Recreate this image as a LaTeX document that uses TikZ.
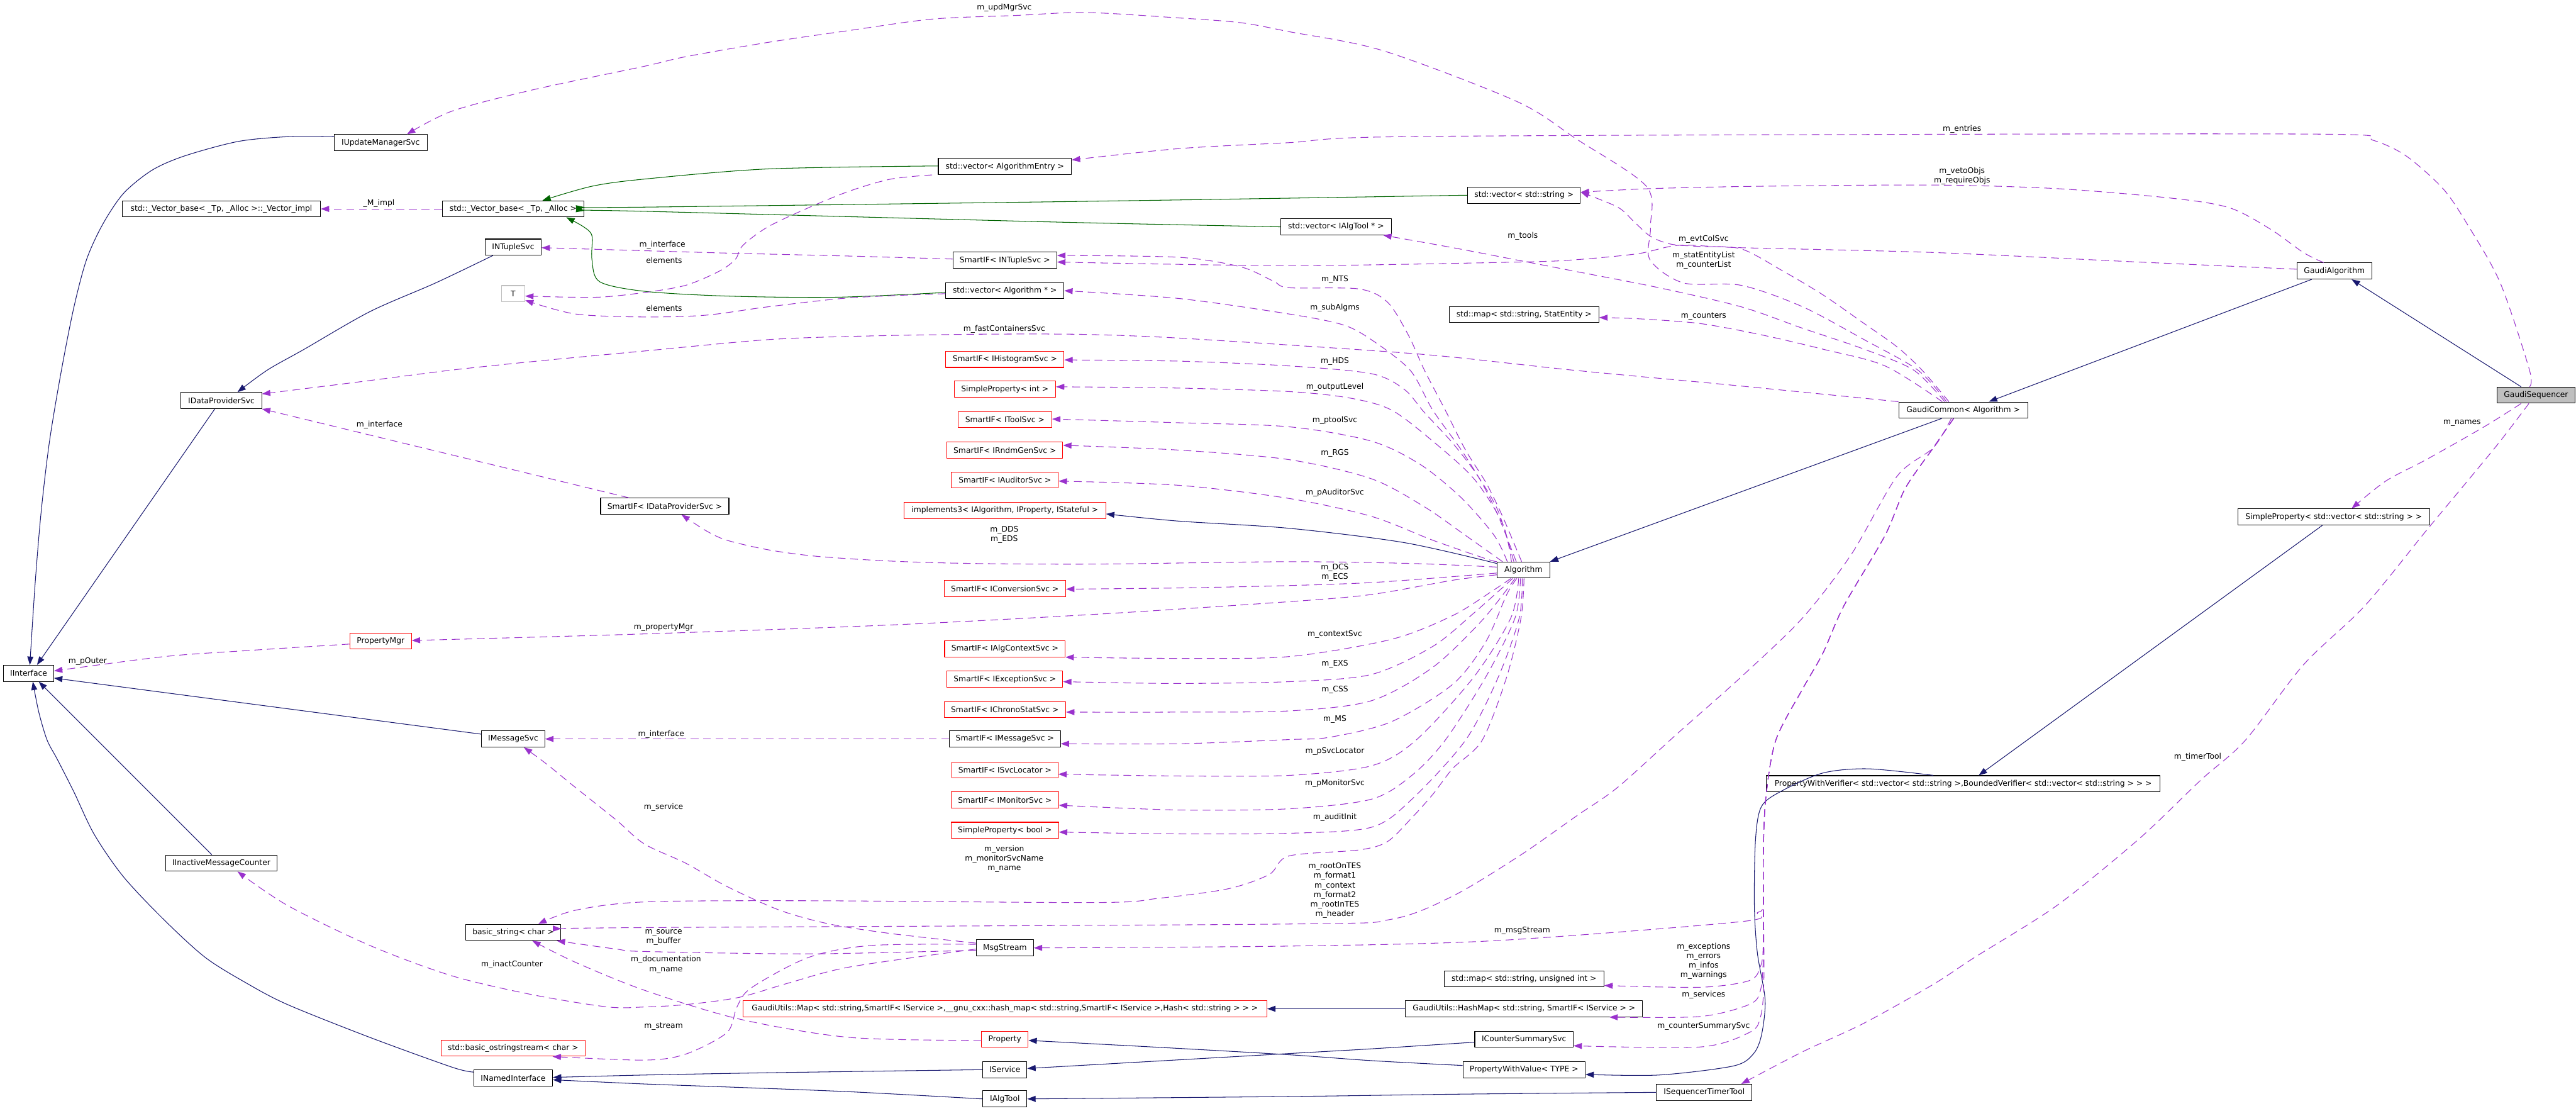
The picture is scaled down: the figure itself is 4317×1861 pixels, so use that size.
\documentclass[tikz,border=0pt]{standalone}
\usepackage{fontspec}
\setmainfont{DejaVu Sans}
\usetikzlibrary{arrows.meta}
\definecolor{mnavy}{RGB}{25,25,112}
\definecolor{mpurp}{RGB}{154,50,205}
\definecolor{mgreen}{RGB}{0,100,0}
\definecolor{mgray}{RGB}{191,191,191}
\newcommand\dfont{\fontsize{13}{16}\selectfont}
\begin{document}
\begin{tikzpicture}[x=1pt,y=-1pt,line join=round,
 box/.style={draw=black,line width=1.1pt,fill=white,minimum height=27pt,inner sep=0pt,font=\dfont},
 rbox/.style={box,draw=red},
 inh/.style={draw=mnavy,line width=1.1pt,-{Triangle[length=14pt,width=10pt]}},
 grn/.style={draw=mgreen,line width=1.1pt,-{Triangle[length=14pt,width=10pt]}},
 usg/.style={draw=mpurp,line width=1.1pt,dash pattern=on 13pt off 8pt,-{Triangle[length=14pt,width=10pt]}},
 lab/.style={font=\dfont,align=center,inner sep=0pt}]
\fill[white] (0,0) rectangle (4317,1861);
\useasboundingbox (0,0) rectangle (4317,1861);

% ---------- nodes ----------
\node[box,minimum width=156pt] (iums) at (638,239) {IUpdateManagerSvc};
\node[box,minimum width=332pt] (vimpl) at (371,350) {std::\_Vector\_base< \_Tp, \_Alloc >::\_Vector\_impl};
\node[box,minimum width=238pt] (vbase) at (860,350) {std::\_Vector\_base< \_Tp, \_Alloc >};
\node[box,minimum width=94pt] (ints) at (860,414) {INTupleSvc};
\node[box,draw=mgray,minimum width=39pt] (T) at (860,492) {T};
\node[box,minimum width=135pt] (idp) at (371,671) {IDataProviderSvc};
\node[box,minimum width=84pt] (iface) at (48,1128) {IInterface};
\node[rbox,minimum width=103pt] (pmgr) at (638,1074) {PropertyMgr};
\node[box,minimum width=106pt] (imsg) at (860,1238) {IMessageSvc};
\node[box,minimum width=187pt] (imc) at (371,1446) {IInactiveMessageCounter};
\node[box,minimum width=160pt] (bstr) at (860,1562) {basic\_string< char >};
\node[rbox,minimum width=242pt] (oss) at (860,1756) {std::basic\_ostringstream< char >};
\node[box,minimum width=132pt] (inamed) at (860,1806) {INamedInterface};

\node[box,minimum width=223pt] (vecAE) at (1684,279) {std::vector< AlgorithmEntry >};
\node[box,minimum width=174pt] (spNT) at (1684,436) {SmartIF< INTupleSvc >};
\node[box,minimum width=198pt] (vecAlg) at (1684,487) {std::vector< Algorithm * >};
\node[rbox,minimum width=198pt] (spHist) at (1684,602) {SmartIF< IHistogramSvc >};
\node[rbox,minimum width=170pt] (spInt) at (1684,652) {SimpleProperty< int >};
\node[rbox,minimum width=157pt] (spTool) at (1684,703) {SmartIF< IToolSvc >};
\node[rbox,minimum width=194pt] (spRndm) at (1684,754) {SmartIF< IRndmGenSvc >};
\node[rbox,minimum width=179pt] (spAud) at (1684,804) {SmartIF< IAuditorSvc >};
\node[rbox,minimum width=338pt] (impl3) at (1684,855) {implements3< IAlgorithm, IProperty, IStateful >};
\node[box,minimum width=215pt] (spIDP) at (1114,848) {SmartIF< IDataProviderSvc >};
\node[rbox,minimum width=204pt] (spConv) at (1684,986) {SmartIF< IConversionSvc >};
\node[rbox,minimum width=202pt] (spCtx) at (1684,1087) {SmartIF< IAlgContextSvc >};
\node[rbox,minimum width=194pt] (spExc) at (1684,1138) {SmartIF< IExceptionSvc >};
\node[rbox,minimum width=204pt] (spChr) at (1684,1189) {SmartIF< IChronoStatSvc >};
\node[box,minimum width=186pt] (spMsg) at (1684,1238) {SmartIF< IMessageSvc >};
\node[rbox,minimum width=178pt] (spLoc) at (1684,1290) {SmartIF< ISvcLocator >};
\node[rbox,minimum width=180pt] (spMon) at (1684,1340) {SmartIF< IMonitorSvc >};
\node[rbox,minimum width=180pt] (spBool) at (1684,1391) {SimpleProperty< bool >};
\node[box,minimum width=96pt] (msgs) at (1684,1588) {MsgStream};
\node[rbox,minimum width=878pt] (gmap) at (1684,1690) {GaudiUtils::Map< std::string,SmartIF< IService >,\_\_gnu\_cxx::hash\_map< std::string,SmartIF< IService >,Hash< std::string > > >};
\node[rbox,minimum width=78pt] (prop) at (1684,1741) {Property};
\node[box,minimum width=74pt] (isvc) at (1684,1792) {IService};
\node[box,minimum width=74pt] (ialg) at (1684,1841) {IAlgTool};

\node[box,minimum width=189pt] (vecStr) at (2554,327) {std::vector< std::string >};
\node[box,minimum width=185pt] (vecTool) at (2239,380) {std::vector< IAlgTool * >};
\node[box,minimum width=251pt] (mapStat) at (2554,527) {std::map< std::string, StatEntity >};
\node[box,minimum width=88pt] (alg) at (2553,955) {Algorithm};
\node[box,minimum width=268pt] (mapUI) at (2554,1640) {std::map< std::string, unsigned int >};
\node[box,minimum width=397pt] (hmap) at (2554,1690) {GaudiUtils::HashMap< std::string, SmartIF< IService > >};
\node[box,minimum width=165pt] (icss) at (2554,1741) {ICounterSummarySvc};
\node[box,minimum width=205pt] (pwval) at (2554,1792) {PropertyWithValue< TYPE >};
\node[box,minimum width=160pt] (istt) at (2856,1830) {ISequencerTimerTool};
\node[box,minimum width=216pt] (gc) at (3290,687) {GaudiCommon< Algorithm >};
\node[box,minimum width=660pt] (pwver) at (3290,1313) {PropertyWithVerifier< std::vector< std::string >,BoundedVerifier< std::vector< std::string > > >};
\node[box,minimum width=125pt] (galg) at (3912,454) {GaudiAlgorithm};
\node[box,minimum width=321pt] (spvs) at (3911,866) {SimpleProperty< std::vector< std::string > >};
\node[box,fill=mgray,minimum width=131pt] (gseq) at (4250,662) {GaudiSequencer};

% ---------- inheritance ----------
\draw[inh] plot[smooth] coordinates {([yshift=10pt]iums.west) (482,229) (399,237) (310,261) (255,285) (207,324) (172,376) (145,435) (124,514) (103,620) (83,739) (69,857) (59,976) ([xshift=2pt]iface.north)};
\draw[inh] ([xshift=-11pt]idp.south) -- ([xshift=14pt]iface.north);
\draw[inh] plot[smooth] coordinates {([xshift=-34pt]ints.south) (730,474) (620,522) (510,585) (448,620) ([xshift=27pt]idp.north)};
\draw[inh] ([yshift=-6pt]imsg.north west) -- ([yshift=-8pt]iface.east);
\draw[inh] ([xshift=-16pt]imc.north) -- ([xshift=17pt]iface.south);
\draw[inh] plot[smooth] coordinates {([yshift=10pt]inamed.west) (758,1788) (620,1738) (482,1683) (413,1647) (344,1604) (275,1541) (207,1469) (158,1398) (124,1327) (96,1272) (79,1240) (65,1193) ([xshift=7pt]iface.south)};
\draw[inh] plot[smooth] coordinates {(isvc.west) (1300,1797) (1080,1801) ([yshift=1pt]inamed.east)};
\draw[inh] plot[smooth] coordinates {(ialg.west) (1424,1829) (1218,1821) (1080,1816) ([yshift=-3pt]inamed.east)};
\draw[inh] plot[smooth] coordinates {(istt.west) (2450,1833) (2160,1837) (ialg.east)};
\draw[inh] plot[smooth] coordinates {([yshift=-5pt]icss.west) (2300,1757) (2160,1765) (1950,1777) ([yshift=2pt]isvc.east)};
\draw[inh] plot[smooth] coordinates {([yshift=7pt]pwval.west) (2300,1777) (2160,1767) (1950,1755) ([yshift=-2pt]prop.east)};
\draw[inh] (hmap.west) -- (gmap.east);
\draw[inh] plot[smooth] coordinates {([xshift=-50pt]pwver.north) (3131,1288) (3055,1295) (2986,1325) (2952,1351) (2942,1406) (2940,1517) (2945,1596) (2958,1675) (2952,1734) (2938,1766) (2904,1786) (2780,1801) ([yshift=-8pt]pwval.east)};
\draw[inh] ([xshift=-19pt]spvs.south) -- ([xshift=26pt]pwver.north);
\draw[inh] ([xshift=-25pt]gseq.north) -- ([xshift=29pt]galg.south);
\draw[inh] ([xshift=-38pt]galg.south) -- ([xshift=43pt]gc.north);
\draw[inh] ([xshift=-36pt]gc.south) -- (alg.north east);
\draw[inh] plot[smooth] coordinates {([yshift=11pt]alg.west) (2353,909) (2160,885) (1975,873) ([yshift=-6pt]impl3.east)};

% ---------- green ----------
\draw[grn] plot[smooth] coordinates {([yshift=1pt]vecAE.west) (1287,283) (1080,300) (992,312) ([xshift=49pt]vbase.north)};
\draw[grn] plot[smooth] coordinates {(vecStr.west) (2160,332) (1769,338) (1080,347) ([yshift=3pt]vbase.east)};
\draw[grn] plot[smooth] coordinates {(vecTool.west) (1769,372) (1080,354) ([yshift=-3pt]vbase.east)};
\draw[grn] plot[smooth] coordinates {([yshift=-3pt]vecAlg.west) (1400,498) (1218,496) (1080,488) (1005,472) (992,435) (992,395) (978,380) ([xshift=89pt]vbase.south)};

% ---------- usage ----------
\draw[usg] plot[smooth] coordinates {([xshift=-28pt]gc.north) (3214,620) (3124,569) (3021,514) (2918,478) (2821,474) (2765,435) (2766,380) (2759,312) (2642,233) (2542,170) (2318,85) (2160,53) (2079,38) (1975,30) (1820,21) (1700,26) (1562,32) (1424,51) (1287,71) (1149,95) (1080,111) (895,150) (758,186) ([xshift=44pt]iums.north)};
\draw[usg] plot[smooth] coordinates {([xshift=-11pt]gseq.north) (4239,620) (4190,474) (4135,376) (4094,316) (4032,261) (3977,235) (3911,225) (3240,225) (2346,229) (2160,239) (1975,249) ([yshift=11pt]vecAE.east)};
\draw[usg] plot[smooth] coordinates {([xshift=-18pt]galg.north) (3860,423) (3805,384) (3736,348) (3639,332) (3447,316) (3240,310) (2952,312) (2766,316) ([yshift=5pt]vecStr.east)};
\draw[usg] plot[smooth] coordinates {([yshift=3pt]galg.west) (3584,439) (3240,423) (2918,415) (2814,411) (2745,425) (2642,435) (2546,439) (2160,445) ([yshift=-3pt]spNT.east)};
\draw[usg] plot[smooth] coordinates {([xshift=-31pt]gc.north) (3207,620) (3124,585) (3021,550) (2918,514) (2780,482) (2642,455) (2539,435) (2435,415) ([xshift=79pt]vecTool.south)};
\draw[usg] plot[smooth] coordinates {([xshift=-24pt]gc.north) (3221,620) (3179,581) (3124,542) (3055,494) (2986,453) (2918,417) (2850,413) (2800,409) (2766,396) (2739,372) (2711,347) ([yshift=5pt]vecStr.east)};
\draw[usg] plot[smooth] coordinates {([xshift=-35pt]gc.north) (3159,613) (3055,585) (2952,561) (2849,542) (2745,534) ([yshift=-5pt]mapStat.east)};
\draw[usg] plot[smooth] coordinates {(gc.north west) (2900,645) (2635,620) (2400,595) (2160,578) (1950,565) (1803,560) (1631,560) (1450,563) (1287,569) (1080,588) (900,605) (757,620) (600,640) ([yshift=-3pt]idp.north east)};
% Algorithm fan (top)
\draw[usg] plot[smooth] coordinates {([xshift=-3pt]alg.north) (2518,865) (2491,810) (2456,754) (2422,687) (2387,620) (2360,561) (2325,506) (2277,484) (2160,482) (2134,471) (2079,447) (1975,431) ([yshift=8pt]spNT.east)};
\draw[usg] plot[smooth] coordinates {([xshift=-12pt]alg.north) (2511,865) (2484,810) (2449,754) (2401,687) (2363,620) (2298,569) (2250,544) (2160,526) (1975,500) (vecAlg.east)};
\draw[usg] plot[smooth] coordinates {([xshift=-16pt]alg.north) (2511,857) (2477,798) (2435,743) (2387,691) (2353,652) (2298,626) (2160,613) (1975,605) ([yshift=-1pt]spHist.east)};
\draw[usg] plot[smooth] coordinates {([xshift=-20pt]alg.north) (2518,877) (2470,802) (2401,739) (2332,687) (2263,667) (2160,656) (1968,650) ([yshift=4pt]spInt.east)};
\draw[usg] plot[smooth] coordinates {([xshift=-27pt]alg.north) (2504,897) (2449,834) (2380,778) (2298,739) (2160,715) (1968,708) ([yshift=1pt]spTool.east)};
\draw[usg] plot[smooth] coordinates {([xshift=-35pt]alg.north) (2456,897) (2387,849) (2298,802) (2160,770) (1975,754) ([yshift=8pt]spRndm.east)};
\draw[usg] plot[smooth] coordinates {(alg.north west) (2490,936) (2401,905) (2298,865) (2160,835) (1975,813) ([yshift=-2pt]spAud.east)};
% Algorithm fan (left)
\draw[usg] plot[smooth] coordinates {([yshift=5pt]alg.west) (2366,944) (2160,941) (1838,945) (1631,944) (1493,940) (1369,932) (1287,921) (1218,905) (1183,889) ([xshift=28pt]spIDP.south)};
\draw[usg] plot[smooth] coordinates {([yshift=-5pt]alg.west) (2435,966) (2298,976) (2160,981) (1975,985) ([yshift=-1pt]spConv.east)};
\draw[usg] plot[smooth] coordinates {([yshift=-8pt]alg.west) (2435,972) (2298,996) (2160,1008) (1838,1029) (1493,1047) (1080,1062) ([yshift=1pt]pmgr.east)};
% Algorithm fan (bottom)
\draw[usg] plot[smooth] coordinates {([xshift=-21pt]alg.south) (2504,988) (2435,1031) (2332,1071) (2160,1100) (1968,1103) (spCtx.south east)};
\draw[usg] plot[smooth] coordinates {([xshift=-18pt]alg.south) (2470,1027) (2401,1083) (2298,1130) (2160,1142) (1968,1145) ([yshift=-4pt]spExc.east)};
\draw[usg] plot[smooth] coordinates {([xshift=-14pt]alg.south) (2484,1039) (2401,1118) (2298,1174) (2160,1191) (1968,1193) ([yshift=-4pt]spChr.east)};
\draw[usg] plot[smooth] coordinates {([xshift=-11pt]alg.south) (2525,996) (2490,1075) (2435,1146) (2332,1209) (2229,1235) (2160,1239) (1975,1246) ([yshift=-8pt]spMsg.east)};
\draw[usg] plot[smooth] coordinates {([xshift=-8pt]alg.south) (2532,1035) (2470,1134) (2373,1240) (2298,1283) (2160,1299) (1975,1300) ([yshift=-7pt]spLoc.east)};
\draw[usg] plot[smooth] coordinates {([xshift=-5pt]alg.south) (2539,1035) (2490,1134) (2422,1240) (2366,1299) (2298,1339) (2160,1355) (1975,1357) ([yshift=-9pt]spMon.east)};
\draw[usg] plot[smooth] coordinates {([xshift=-2pt]alg.south) (2546,1035) (2511,1134) (2456,1240) (2366,1339) (2298,1386) (2160,1396) (1975,1397) ([yshift=-3pt]spBool.east)};
\draw[usg] plot[smooth] coordinates {([xshift=1pt]alg.south) (2549,1035) (2525,1134) (2484,1240) (2435,1287) (2401,1331) (2366,1370) (2325,1410) (2277,1424) (2160,1434) (2127,1465) (2058,1489) (1941,1505) (1838,1512) (1355,1509) (1080,1511) (964,1525) ([xshift=42pt]bstr.north)};
% GaudiCommon bottom bundle
\draw[usg] plot[smooth] coordinates {([xshift=-20pt]gc.south) (3240,750) (3179,798) (3103,928) (3021,1035) (2918,1134) (2811,1229) (2711,1319) (2642,1367) (2546,1434) (2435,1501) (2332,1540) (2160,1548) (1080,1554) ([yshift=6pt]bstr.east)};
\draw[usg] plot[smooth] coordinates {([xshift=-16pt]gc.south) (3240,750) (3193,818) (3159,897) (3090,1015) (3055,1094) (3021,1154) (2976,1240) (2959,1339) (2955,1438) (2955,1517) (2945,1529) (2918,1544) (2504,1576) (2160,1585) (msgs.east)};
\draw[usg] plot[smooth] coordinates {([xshift=-16pt]gc.south) (3240,750) (3193,818) (3159,897) (3090,1015) (3055,1094) (3021,1154) (2976,1240) (2959,1339) (2955,1438) (2955,1580) (2950,1620) (2931,1643) (2849,1654) ([yshift=-11pt]mapUI.east)};
\draw[usg] plot[smooth] coordinates {([xshift=-16pt]gc.south) (3240,750) (3193,818) (3159,897) (3090,1015) (3055,1094) (3021,1154) (2976,1240) (2959,1339) (2955,1438) (2955,1600) (2950,1660) (2931,1683) (2849,1703) ([xshift=143pt]hmap.south)};
\draw[usg] plot[smooth] coordinates {([xshift=-16pt]gc.south) (3240,750) (3193,818) (3159,897) (3090,1015) (3055,1094) (3021,1154) (2976,1240) (2959,1339) (2955,1438) (2956,1640) (2950,1705) (2931,1730) (2849,1754) ([yshift=-11pt]icss.east)};
% GaudiSequencer
\draw[usg] plot[smooth] coordinates {([xshift=-25pt]gseq.south) (4163,715) (4066,770) (3998,806) ([xshift=30pt]spvs.north)};
\draw[usg] plot[smooth] coordinates {([xshift=-12pt]gseq.south) (4190,739) (4135,806) (4066,889) (3963,1015) (3860,1114) (3763,1240) (3688,1307) (3584,1406) (3447,1517) (3309,1604) (3240,1649) (3124,1714) (3021,1762) ([xshift=62pt]istt.north)};
% MsgStream, Property
\draw[usg] plot[smooth] coordinates {([yshift=8pt]msgs.west) (1493,1564) (1390,1548) (1307,1525) (1218,1485) (1149,1446) (1080,1414) (1033,1374) (964,1319) (916,1280) ([xshift=18pt]imsg.south)};
\draw[usg] plot[smooth] coordinates {([yshift=-4pt]msgs.west) (1355,1598) (1080,1594) (1033,1590) ([xshift=73pt]bstr.south)};
\draw[usg] plot[smooth] coordinates {([yshift=-2pt]prop.west) (1424,1738) (1238,1707) (1080,1659) (964,1612) ([xshift=32pt]bstr.south)};
\draw[usg] plot[smooth] coordinates {([yshift=-2pt]msgs.west) (1424,1620) (1321,1647) (1238,1671) (1149,1683) (1080,1687) (1019,1687) (895,1667) (758,1635) (620,1584) (482,1517) ([xshift=27pt]imc.south)};
\draw[usg] plot[smooth] coordinates {([yshift=6pt]msgs.west) (1459,1584) (1355,1604) (1259,1655) (1235,1687) (1218,1730) (1149,1766) (1080,1776) ([xshift=66pt]oss.south)};
% SmartIF -> interfaces
\draw[usg] ([xshift=-60pt]spIDP.north) -- (idp.south east);
\draw[usg] plot[smooth] coordinates {([yshift=2pt]spNT.west) (1424,429) (1218,424) (1080,420) ([yshift=-1pt]ints.east)};
\draw[usg] (spMsg.west) -- (imsg.east);
% elements
\draw[usg] plot[smooth] coordinates {([xshift=-122pt]vecAE.south) (1493,300) (1424,320) (1355,348) (1287,380) (1245,411) (1232,435) (1204,455) (1149,478) (1080,490) (999,498) ([yshift=-4pt]T.east)};
\draw[usg] plot[smooth] coordinates {([yshift=-5pt]vecAlg.west) (1424,499) (1287,514) (1183,528) (1080,531) (964,526) ([yshift=3pt]T.south east)};
\draw[usg] (vbase.west) -- (vimpl.east);
\draw[usg] plot[smooth] coordinates {([yshift=-5pt]pmgr.west) (413,1090) (275,1100) ([yshift=4pt]iface.east)};

% ---------- labels ----------
\node[lab] (l1) at (635,341) {\_M\_impl};
\node[lab] (l2) at (1683,13) {m\_updMgrSvc};
\node[lab] (l3) at (3288,216) {m\_entries};
\node[lab] (l4) at (3288,295) {m\_vetoObjs\\m\_requireObjs};
\node[lab] (l5) at (2855,401) {m\_evtColSvc};
\node[lab] (l6) at (2855,436) {m\_statEntityList\\m\_counterList};
\node[lab] (l7) at (2552,396) {m\_tools};
\node[lab] (l8) at (2855,530) {m\_counters};
\node[lab] (l9) at (1683,551) {m\_fastContainersSvc};
\node[lab] (l10) at (1113,436) {elements};
\node[lab] (l11) at (1113,516) {elements};
\node[lab] (l12) at (1110,410) {m\_interface};
\node[lab] (l13) at (636,712) {m\_interface};
\node[lab] (l14) at (1108,1230) {m\_interface};
\node[lab] (l15) at (147,1108) {m\_pOuter};
\node[lab] (l16) at (1112,1051) {m\_propertyMgr};
\node[lab] (l17) at (1683,896) {m\_DDS\\m\_EDS};
\node[lab] (l18) at (2237,959) {m\_DCS\\m\_ECS};
\node[lab] (l19) at (2237,468) {m\_NTS};
\node[lab] (l20) at (2237,516) {m\_subAlgms};
\node[lab] (l21) at (2237,605) {m\_HDS};
\node[lab] (l22) at (2237,648) {m\_outputLevel};
\node[lab] (l23) at (2237,704) {m\_ptoolSvc};
\node[lab] (l24) at (2237,759) {m\_RGS};
\node[lab] (l25) at (2237,825) {m\_pAuditorSvc};
\node[lab] (l26) at (2237,1063) {m\_contextSvc};
\node[lab] (l27) at (2237,1112) {m\_EXS};
\node[lab] (l28) at (2237,1156) {m\_CSS};
\node[lab] (l29) at (2237,1205) {m\_MS};
\node[lab] (l30) at (2237,1259) {m\_pSvcLocator};
\node[lab] (l31) at (2237,1312) {m\_pMonitorSvc};
\node[lab] (l32) at (2237,1369) {m\_auditInit};
\node[lab] (l33) at (2237,1492) {m\_rootOnTES\\m\_format1\\m\_context\\m\_format2\\m\_rootInTES\\m\_header};
\node[lab] (l34) at (1683,1439) {m\_version\\m\_monitorSvcName\\m\_name};
\node[lab] (l35) at (2551,1559) {m\_msgStream};
\node[lab] (l36) at (2855,1610) {m\_exceptions\\m\_errors\\m\_infos\\m\_warnings};
\node[lab] (l37) at (2855,1667) {m\_services};
\node[lab] (l38) at (2855,1719) {m\_counterSummarySvc};
\node[lab] (l39) at (1112,1353) {m\_service};
\node[lab] (l40) at (1112,1570) {m\_source\\m\_buffer};
\node[lab] (l41) at (1116,1616) {m\_documentation\\m\_name};
\node[lab] (l42) at (1112,1720) {m\_stream};
\node[lab] (l43) at (858,1616) {m\_inactCounter};
\node[lab] (l44) at (4126,709) {m\_names};
\node[lab] (l45) at (3683,1268) {m\_timerTool};
\end{tikzpicture}
\end{document}
